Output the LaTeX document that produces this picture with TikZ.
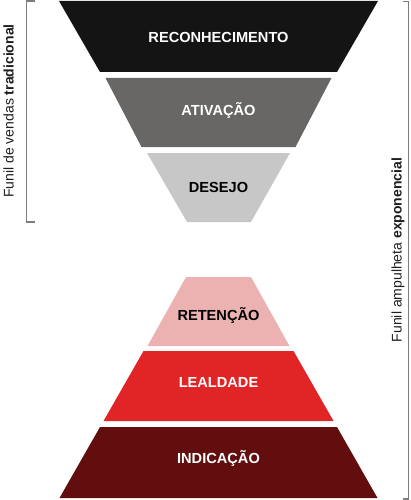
\documentclass[tikz,border=0pt]{standalone}
\usepackage{fontspec}
\setmainfont{Liberation Sans}
\definecolor{cBlack}{RGB}{20,20,20}
\definecolor{cGray}{RGB}{104,103,101}
\definecolor{cLight}{RGB}{200,199,199}
\definecolor{cPink}{RGB}{236,178,178}
\definecolor{cRed}{RGB}{225,36,38}
\definecolor{cDark}{RGB}{98,14,15}
\definecolor{cBracket}{RGB}{125,125,125}
\definecolor{cSide}{RGB}{30,30,30}
\begin{document}
\begin{tikzpicture}[x=1pt,y=-1pt,
  lbl/.style={font=\fontsize{14.6}{16}\selectfont\bfseries, anchor=base, inner sep=0pt},
  side/.style={font=\fontsize{14}{16}\selectfont, text=cSide, rotate=90, anchor=base, inner sep=0pt},
  bracket/.style={draw=cBracket, line width=1.2pt}]
\useasboundingbox (0,0) rectangle (411,500);
% top funnel
\fill[cBlack] (59,1) -- (378,1) -- (337,72) -- (100,72) -- cycle;
\fill[cGray] (105.5,78) -- (331.5,78) -- (295.5,147) -- (141.5,147) -- cycle;
\fill[cLight] (147,153) -- (290,153) -- (251,222) -- (187,222) -- cycle;
% bottom funnel
\fill[cPink] (186,277) -- (251,277) -- (289.5,346) -- (147.5,346) -- cycle;
\fill[cRed] (143.5,351) -- (293.5,351) -- (333.5,421) -- (103.5,421) -- cycle;
\fill[cDark] (100,427) -- (337,427) -- (377.5,498) -- (59.5,498) -- cycle;
% labels
\node[lbl, text=white] (rec) at (218.5,43) {RECONHECIMENTO};
\node[lbl, text=white] (ati) at (218.5,115) {ATIVAÇÃO};
\node[lbl, text=black] (des) at (218.5,192.5) {DESEJO};
\node[lbl, text=black] (ret) at (218.5,320.5) {RETENÇÃO};
\node[lbl, text=white] (lea) at (218.5,387) {LEALDADE};
\node[lbl, text=white] (ind) at (218.5,463) {INDICAÇÃO};
% brackets
\coordinate (l1) at (35,1);
\coordinate (l2) at (26.5,1);
\coordinate (l3) at (26.5,222);
\coordinate (l4) at (35,222);
\draw[bracket] (l1) -- (l2) -- (l3) -- (l4);
\coordinate (r1) at (403,1.5);
\coordinate (r2) at (408.5,1.5);
\coordinate (r3) at (408.5,499);
\coordinate (r4) at (403,499);
\draw[bracket] (r1) -- (r2) -- (r3) -- (r4);
% side texts
\node[side] (lt) at (13.5,111) {Funil de vendas \textbf{tradicional}};
\node[side] (rt) at (401.5,250) {Funil ampulheta \textbf{exponencial}};
\end{tikzpicture}
\end{document}
